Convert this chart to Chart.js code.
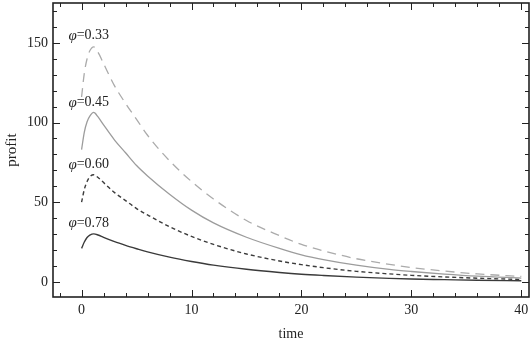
<!DOCTYPE html>
<html>
<head>
<meta charset="utf-8">
<script src="https://cdn.jsdelivr.net/npm/chart.js@4.4.1/dist/chart.umd.min.js"></script>
<style>
  html, body { margin: 0; padding: 0; background: #fff; }
  #wrap { width: 532px; height: 343px; }
</style>
</head>
<body>
<div id="wrap"><canvas id="chart"></canvas></div>
<script>
// Data
const times = [0, 0.25, 0.5, 0.75, 1.1, 1.5, 2, 3, 4, 5, 6, 8, 10, 12, 15, 18, 20, 22, 25, 28, 30, 33, 36, 40];
const phiLabels = ['0.33', '0.45', '0.60', '0.78'];
const profit033 = [116, 131, 140, 145, 147.5, 144, 137, 123, 112, 102, 92, 76, 63, 52, 38.5, 29, 23.5, 19.5, 14.5, 11, 9, 6.8, 5, 3.4];
const profit045 = [83, 94, 100.5, 104, 106.3, 103.5, 98.5, 89, 81, 73, 66.5, 55, 45, 37, 28, 21, 17, 14, 10.5, 7.8, 6.5, 4.9, 3.6, 2.4];
const profit060 = [50, 58, 63, 66, 67.2, 65.5, 62.3, 56, 51, 46, 42, 34.6, 28.5, 23.5, 17.5, 13.1, 10.8, 8.9, 6.6, 5, 4.1, 3.1, 2.3, 1.5];
const profit078 = [21, 25, 27.8, 29.3, 30.1, 29.4, 27.9, 25.2, 22.9, 20.8, 18.8, 15.5, 12.8, 10.5, 7.9, 5.9, 4.8, 4, 3, 2.2, 1.8, 1.4, 1, 0.7];
// label anchor positions (time, profit) for the phi annotations
const labelAt = [[-1.2, 154.5], [-1.2, 112.5], [-1.2, 73.5], [-1.2, 37]];
const xTicks = [0, 10, 20, 30, 40];
const yTicks = [0, 50, 100, 150];

const serif = '"Liberation Serif", "DejaVu Serif", serif';

function pts(vals) {
    return times.map((t, i) => ({ x: t, y: vals[i] }));
}

// frame with inward ticks on all four sides, Mathematica style
const framePlugin = {
    id: 'frame',
    afterDatasetsDraw(chart) {
        const { ctx, chartArea: a, scales } = chart;
        const xs = scales.x, ys = scales.y;
        ctx.save();
        ctx.strokeStyle = '#222';
        ctx.lineWidth = 1;
        ctx.beginPath();
        for (let v = -2; v <= 40; v += 2) {
            const px = Math.round(xs.getPixelForValue(v)) + 0.5;
            const len = v % 10 === 0 ? 7 : 4;
            ctx.moveTo(px, a.bottom); ctx.lineTo(px, a.bottom - len);
            ctx.moveTo(px, a.top); ctx.lineTo(px, a.top + len);
        }
        for (let v = 0; v <= 170; v += 10) {
            const py = Math.round(ys.getPixelForValue(v)) + 0.5;
            const len = v % 50 === 0 ? 7 : 4;
            ctx.moveTo(a.left, py); ctx.lineTo(a.left + len, py);
            ctx.moveTo(a.right, py); ctx.lineTo(a.right - len, py);
        }
        ctx.stroke();
        ctx.lineWidth = 1.6;
        ctx.strokeRect(a.left, a.top, a.right - a.left, a.bottom - a.top);

        // phi labels
        ctx.fillStyle = '#222';
        ctx.textBaseline = 'middle';
        labelAt.forEach((p, i) => {
            let px = xs.getPixelForValue(p[0]);
            const py = ys.getPixelForValue(p[1]);
            ctx.font = 'italic 15px ' + serif;
            ctx.fillText('\u03c6', px, py);
            px += ctx.measureText('\u03c6').width;
            ctx.font = '14px ' + serif;
            ctx.fillText('=' + phiLabels[i], px, py);
        });
        ctx.restore();
    }
};

const ctx = document.getElementById('chart').getContext('2d');
const chart = new Chart(ctx, {
    type: 'line',
    data: {
        datasets: [
            { label: phiLabels[0], data: pts(profit033), borderColor: '#ababab', borderWidth: 1.3, borderDash: [9, 6] },
            { label: phiLabels[1], data: pts(profit045), borderColor: '#9c9c9c', borderWidth: 1.3 },
            { label: phiLabels[2], data: pts(profit060), borderColor: '#3c3c3c', borderWidth: 1.4, borderDash: [4, 3] },
            { label: phiLabels[3], data: pts(profit078), borderColor: '#3a3a3a', borderWidth: 1.4 }
        ]
    },
    options: {
        responsive: true,
        maintainAspectRatio: false,
        animation: false,
        layout: { padding: { top: 3, right: 3, left: 0, bottom: 0 } },
        elements: {
            point: { radius: 0 },
            line: { cubicInterpolationMode: 'monotone', fill: false }
        },
        plugins: { legend: { display: false }, tooltip: { enabled: false } },
        scales: {
            x: {
                type: 'linear',
                min: -2.6,
                max: 40.7,
                grid: { display: false, drawTicks: false, tickLength: 0 },
                border: { display: false },
                afterBuildTicks: s => { s.ticks = xTicks.map(v => ({ value: v })); },
                afterFit: s => { s.height = 46; s.paddingLeft = 0; s.paddingRight = 0; },
                ticks: { color: '#222', padding: 5, maxRotation: 0, font: { family: serif, size: 14 } },
                title: { display: true, text: 'time', color: '#222', padding: { top: -1, bottom: 0 }, font: { family: serif, size: 14 } }
            },
            y: {
                type: 'linear',
                min: -9.5,
                max: 175,
                grid: { display: false, drawTicks: false, tickLength: 0 },
                border: { display: false },
                afterBuildTicks: s => { s.ticks = yTicks.map(v => ({ value: v })); },
                afterFit: s => { s.width = 53; s.paddingTop = 0; s.paddingBottom = 0; },
                ticks: { color: '#222', padding: 5, font: { family: serif, size: 14 } },
                title: { display: true, text: 'profit', color: '#222', padding: { top: 3, bottom: 6 }, font: { family: serif, size: 15 } }
            }
        }
    },
    plugins: [framePlugin]
});
</script>
</body>
</html>
